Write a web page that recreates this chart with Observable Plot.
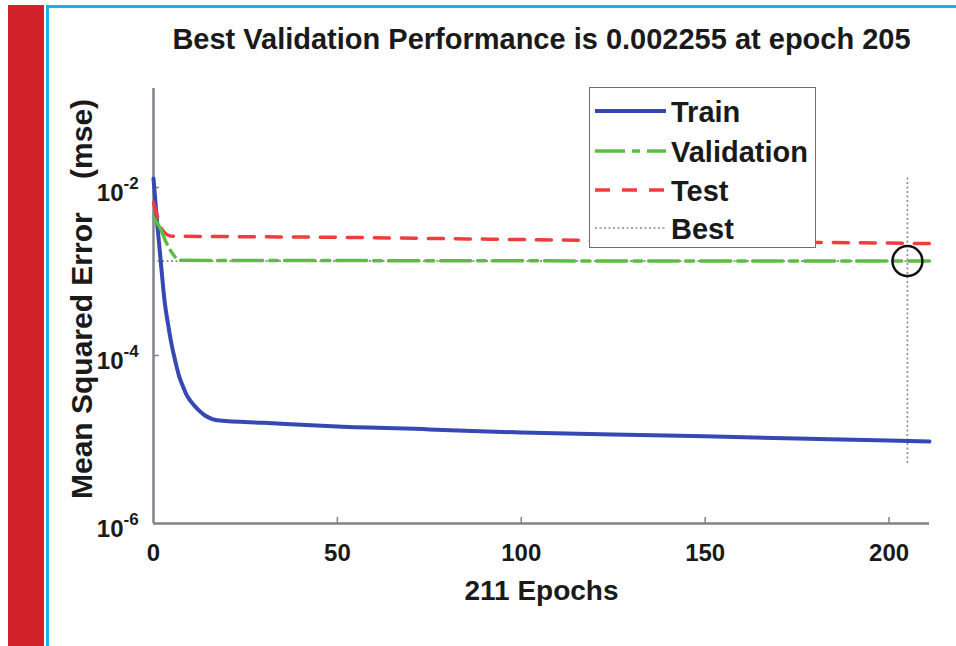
<!DOCTYPE html>
<html><head><meta charset="utf-8">
<script src="https://cdn.jsdelivr.net/npm/d3@7"></script>
<script src="https://cdn.jsdelivr.net/npm/@observablehq/plot@0.6"></script>
<style>
html,body{margin:0;padding:0;background:#fff;}
#wrap{position:relative;width:956px;height:646px;overflow:hidden;font-family:"Liberation Sans",Arial,Helvetica,sans-serif;}
#redbar{position:absolute;left:8px;top:5px;width:36px;height:641px;background:#d2232b;}
#cyanL{position:absolute;left:46px;top:5px;width:3px;height:641px;background:#1cb0ea;}
#cyanT{position:absolute;left:46px;top:5px;width:910px;height:3px;background:#1cb0ea;}
#chart{position:absolute;left:0;top:0;}
#legend{position:absolute;left:589px;top:87px;width:225px;height:159px;border:1.5px solid #6e6e6e;background:#fff;}
#legend svg{display:block;}
</style></head><body>
<div id="wrap">
  <div id="redbar"></div><div id="cyanL"></div><div id="cyanT"></div>
  <div id="chart"></div>
  <div id="legend"></div>
</div>
<script>
// ---- data ----
const titleText = "Best Validation Performance is 0.002255 at epoch 205";
const xLabel = "211 Epochs";
const yLabel = "Mean Squared Error  (mse)";
const xTicks = [0, 50, 100, 150, 200];
const yTicks = [1e-6, 1e-4, 1e-2];
const yExponents = ["-6", "-4", "-2"];

const trainEpochs = [0,1,2,3,4,5,6,7,8,9,10,12,14,16,18,30,50,75,100,125,150,175,200,211];
const trainMSE = [1.28e-2,3.8e-3,1.28e-3,4.5e-4,2.3e-4,1.3e-4,8.3e-5,5.6e-5,4.3e-5,3.4e-5,2.9e-5,2.3e-5,1.93e-5,1.75e-5,1.68e-5,1.58e-5,1.43e-5,1.32e-5,1.21e-5,1.15e-5,1.09e-5,1.03e-5,9.7e-6,9.5e-6];

const valEpochs = [0,1,2,3,4,5,6,7,50,100,150,205,211];
const valMSE = [4.4e-3,3.8e-3,3.16e-3,2.46e-3,1.99e-3,1.68e-3,1.47e-3,1.36e-3,1.35e-3,1.34e-3,1.335e-3,1.33e-3,1.33e-3];

const testEpochs = [0,1,2,3,4,5,25,50,100,150,200,211];
const testMSE = [6.6e-3,4.6e-3,3.4e-3,2.9e-3,2.7e-3,2.63e-3,2.6e-3,2.55e-3,2.4e-3,2.28e-3,2.18e-3,2.15e-3];

const bestEpoch = 205;
const bestPerf = 1.33e-3;
const bestLineRange = [1.3e-2, 4.9e-6];

const seriesNames = ["Train", "Validation", "Test", "Best"];
const seriesColors = ["#3548b4", "#5cbd45", "#f03c3c", "#8a8a8a"];
const seriesDash = [null, "30,7,8,7", "15,12", "2,2.5"];
const seriesWidth = [4, 3.5, 3.5, 1.6];

const xDomain = [0, 211];
const yDomain = [1e-6, 0.151];
const axisColor = "#80828a";

const rows = (xs, ys) => xs.map((e, i) => ({epoch: e, mse: ys[i]}));
// keep the wide gap before "(mse)" (SVG collapses plain spaces)
const yLabelShown = yLabel.replace("  ", "\u00a0\u00a0\u00a0\u00a0");

const chart = Plot.plot({
  width: 956, height: 646,
  marginLeft: 153, marginRight: 27, marginTop: 88, marginBottom: 123,
  style: {fontFamily: '"Liberation Sans", Arial, Helvetica, sans-serif', fontWeight: "bold", color: "#1a1a1a", background: "transparent"},
  x: {domain: xDomain, axis: null},
  y: {type: "log", domain: yDomain, axis: null},
  marks: [
    // axes lines
    Plot.ruleX([xDomain[0]], {stroke: axisColor, strokeWidth: 2.5}),
    Plot.ruleY([yDomain[0]], {stroke: axisColor, strokeWidth: 2.5}),
    // inward tick marks
    Plot.ruleX(xTicks.slice(1), {x: d => d, y1: yDomain[0], y2: yDomain[0] * 1.18, stroke: axisColor, strokeWidth: 1.5}),
    Plot.ruleY(yTicks.slice(1), {y: d => d, x1: 0, x2: 1.6, stroke: axisColor, strokeWidth: 1.5}),
    // best lines
    Plot.ruleY([bestPerf], {stroke: seriesColors[3], strokeWidth: 1.6, strokeDasharray: "2,2.5"}),
    Plot.ruleX([bestEpoch], {y1: bestLineRange[0], y2: bestLineRange[1], stroke: seriesColors[3], strokeWidth: 1.6, strokeDasharray: "2,2.5"}),
    // series
    Plot.line(rows(trainEpochs, trainMSE), {x: "epoch", y: "mse", stroke: seriesColors[0], strokeWidth: seriesWidth[0], curve: "monotone-x"}),
    Plot.line(rows(testEpochs, testMSE), {x: "epoch", y: "mse", stroke: seriesColors[2], strokeWidth: seriesWidth[2], strokeDasharray: seriesDash[2], curve: "monotone-x"}),
    Plot.line(rows(valEpochs, valMSE), {x: "epoch", y: "mse", stroke: seriesColors[1], strokeWidth: seriesWidth[1], strokeDasharray: seriesDash[1], curve: "monotone-x"}),
    // best circle
    Plot.dot([{epoch: bestEpoch, mse: bestPerf}], {x: "epoch", y: "mse", r: 15, stroke: "#111", strokeWidth: 2.5, fill: "none"}),
    // tick labels
    Plot.text(xTicks, {x: d => d, frameAnchor: "bottom", lineAnchor: "middle", dy: 30, text: d => String(d), fontSize: 24, fontWeight: "bold"}),
    Plot.text(yTicks, {y: d => d, frameAnchor: "left", lineAnchor: "middle", dx: -30, dy: 6, text: () => "10", textAnchor: "end", fontSize: 24, fontWeight: "bold"}),
    Plot.text(yTicks, {y: d => d, frameAnchor: "left", lineAnchor: "middle", dx: -30, dy: -4, text: (d, i) => yExponents[i], textAnchor: "start", fontSize: 17, fontWeight: "bold"}),
    // titles
    Plot.text([titleText], {frameAnchor: "top", lineAnchor: "middle", textAnchor: "middle", dy: -49, fontSize: 29, fontWeight: "bold"}),
    Plot.text([xLabel], {frameAnchor: "bottom", lineAnchor: "middle", textAnchor: "middle", dy: 68, fontSize: 28, fontWeight: "bold"}),
    Plot.text([yLabelShown], {frameAnchor: "left", lineAnchor: "middle", textAnchor: "middle", dx: -71, dy: -7, rotate: -90, fontSize: 30, fontWeight: "bold"})
  ]
});
document.getElementById("chart").appendChild(chart);

// ---- legend ----
const lg = d3.select("#legend").append("svg").attr("width", 225).attr("height", 159);
const rowY = [23, 63, 102, 140];
seriesNames.forEach((name, i) => {
  lg.append("line").attr("x1", 5).attr("x2", 76).attr("y1", rowY[i]).attr("y2", rowY[i])
    .attr("stroke", seriesColors[i]).attr("stroke-width", seriesWidth[i])
    .attr("stroke-dasharray", seriesDash[i]);
  lg.append("text").attr("x", 81).attr("y", rowY[i] + 10.5).text(name)
    .attr("font-size", 29).attr("font-weight", "bold").attr("fill", "#1a1a1a")
    .attr("font-family", '"Liberation Sans", Arial, Helvetica, sans-serif');
});
</script>
</body></html>
